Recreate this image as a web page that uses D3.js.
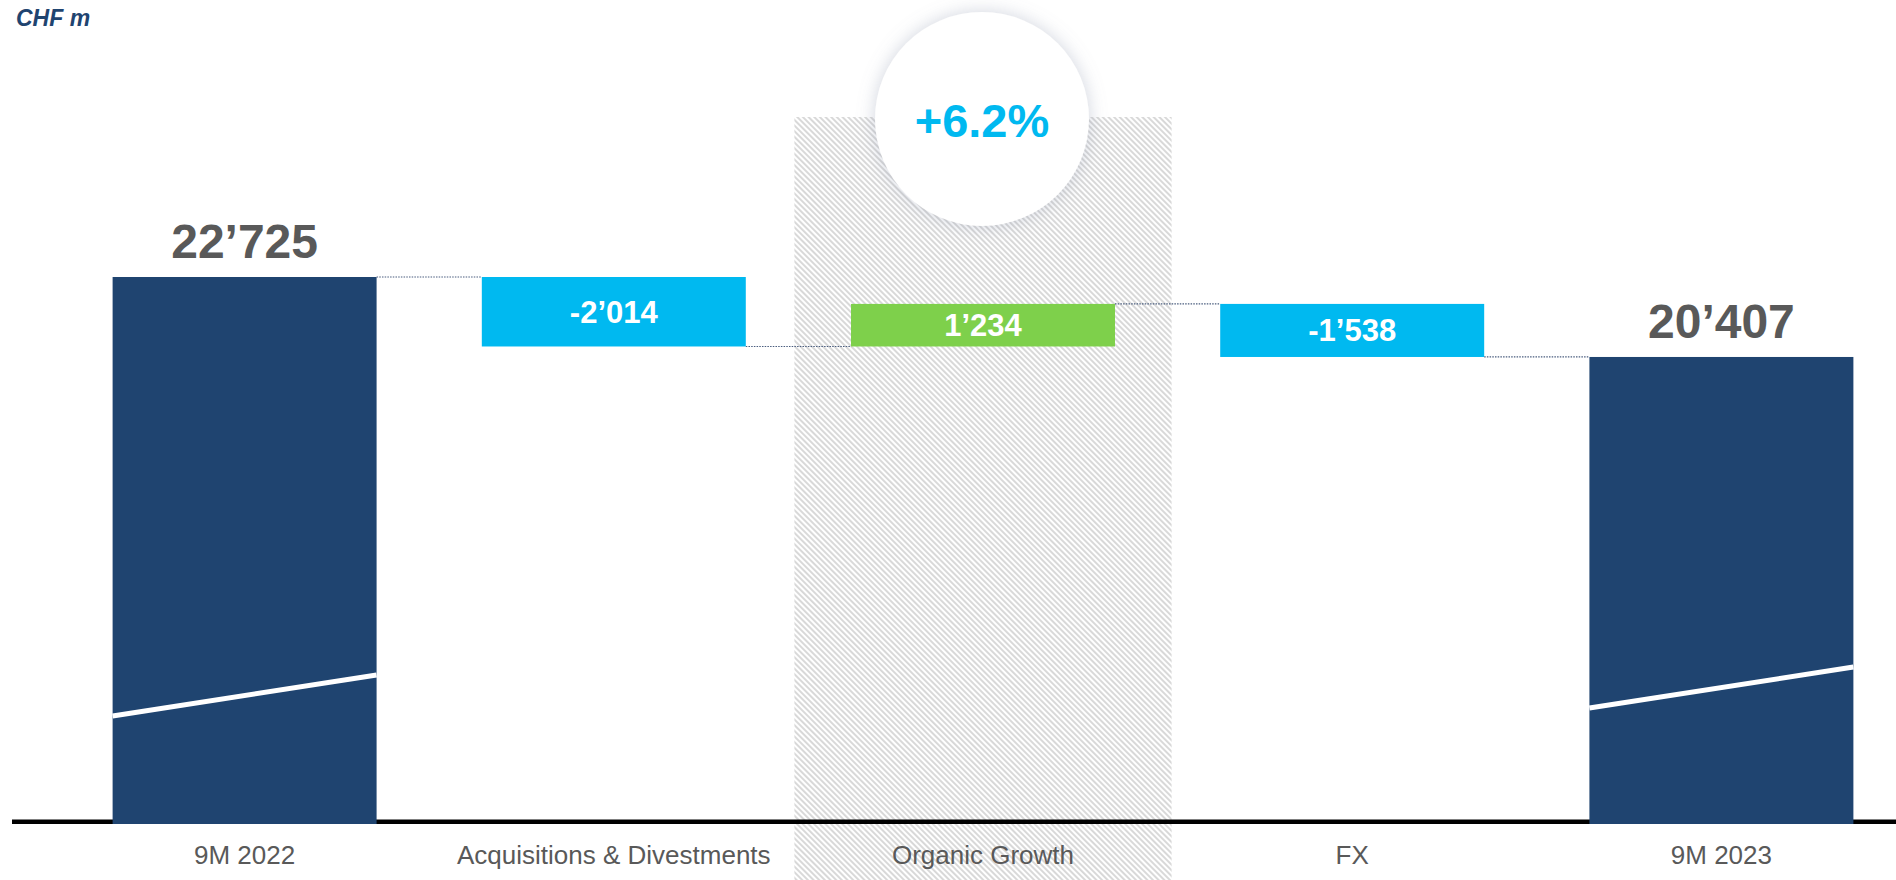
<!DOCTYPE html>
<html>
<head>
<meta charset="utf-8">
<script src="https://cdn.jsdelivr.net/npm/d3@7"></script>
<style>
  html, body { margin: 0; padding: 0; background: #ffffff; }
  svg { display: block; }
  text { font-family: "Liberation Sans", Arial, sans-serif; }
</style>
</head>
<body>
<svg id="chart" width="1896" height="880"></svg>
<script>
// ---- Data ----
const categories = ["9M 2022", "Acquisitions & Divestments", "Organic Growth", "FX", "9M 2023"];
const values = [22725, -2014, 1234, -1538, 20407];
const kinds = ["total", "delta", "delta", "delta", "total"];
const valueLabels = ["22\u2019725", "-2\u2019014", "1\u2019234", "-1\u2019538", "20\u2019407"];
const highlightCategory = "Organic Growth";
const highlightLabel = "+6.2%";
const unitLabel = "CHF m";
// axis-break marks on total bars (value at left edge, value at right edge)
const breakCategories = ["9M 2022", "9M 2023"];
const breakLeft = [10000, 10230];
const breakRight = [11190, 11420];

// ---- Layout ----
const W = 1896, H = 880;
const svg = d3.select("#chart");

const x = d3.scaleBand().domain(categories).range([60, 1906]).paddingInner(0.285).paddingOuter(0.1425);
const y = d3.scaleLinear().domain([6870, 22725]).range([824, 277]);

const colorTotal = "#1F4470", colorNeg = "#00B9F0", colorPos = "#7ED04B";

// compute waterfall segments
let running = 0;
const bars = categories.map((c, i) => {
  let start, end;
  if (kinds[i] === "total") { start = y.domain()[0]; end = values[i]; running = values[i]; }
  else { start = running; end = running + values[i]; running = end; }
  return { cat: c, v: values[i], kind: kinds[i], lo: Math.min(start, end), hi: Math.max(start, end), start, end, label: valueLabels[i] };
});

const defs = svg.append("defs");
const pat = defs.append("pattern").attr("id", "hatch").attr("patternUnits", "userSpaceOnUse")
  .attr("width", 4).attr("height", 4).attr("patternTransform", "rotate(-45)");
pat.append("rect").attr("width", 4).attr("height", 4).attr("fill", "#ffffff");
pat.append("line").attr("x1", 1).attr("y1", 0).attr("x2", 1).attr("y2", 4)
  .attr("stroke", "#d2d2d2").attr("stroke-width", 1.7);

const filt = defs.append("filter").attr("id", "shadow").attr("x", "-30%").attr("y", "-30%").attr("width", "160%").attr("height", "160%");
filt.append("feDropShadow").attr("dx", 0).attr("dy", 0).attr("stdDeviation", 9)
  .attr("flood-color", "#8a94ac").attr("flood-opacity", 0.4);

// highlight hatched column
const hc = x(highlightCategory) + x.bandwidth() / 2;
const hw = x.step() / 2 + 4;
svg.append("rect").attr("x", hc - hw).attr("y", 117).attr("width", hw * 2).attr("height", H - 117)
  .attr("fill", "url(#hatch)");

// axis baseline
svg.append("line").attr("x1", 12).attr("x2", W).attr("y1", y.range()[0] - 2.3).attr("y2", y.range()[0] - 2.3)
  .attr("stroke", "#000000").attr("stroke-width", 4.6);

// connectors
for (let i = 0; i < bars.length - 1; i++) {
  const yv = bars[i].end;
  svg.append("line")
    .attr("x1", x(bars[i].cat) + x.bandwidth()).attr("x2", x(bars[i + 1].cat))
    .attr("y1", y(yv)).attr("y2", y(yv))
    .attr("stroke", "#4a5d7e").attr("stroke-width", 1.2).attr("stroke-dasharray", "1.5,1.2");
}

// bars
svg.selectAll("rect.bar").data(bars).enter().append("rect").attr("class", "bar")
  .attr("x", d => x(d.cat)).attr("width", x.bandwidth())
  .attr("y", d => y(d.hi)).attr("height", d => y(d.lo) - y(d.hi))
  .attr("fill", d => d.kind === "total" ? colorTotal : (d.v < 0 ? colorNeg : colorPos));

// break marks
breakCategories.forEach((c, i) => {
  svg.append("line")
    .attr("x1", x(c)).attr("x2", x(c) + x.bandwidth())
    .attr("y1", y(breakLeft[i])).attr("y2", y(breakRight[i]))
    .attr("stroke", "#ffffff").attr("stroke-width", 5);
});

// value labels
bars.forEach(d => {
  if (d.kind === "total") {
    svg.append("text").attr("x", x(d.cat) + x.bandwidth() / 2).attr("y", y(d.hi) - 19)
      .attr("text-anchor", "middle").attr("font-size", 48).attr("font-weight", "bold")
      .attr("fill", "#595959").text(d.label);
  } else {
    svg.append("text").attr("x", x(d.cat) + x.bandwidth() / 2).attr("y", (y(d.hi) + y(d.lo)) / 2 + 11)
      .attr("text-anchor", "middle").attr("font-size", 31).attr("font-weight", "bold")
      .attr("fill", "#ffffff").text(d.label);
  }
});

// category labels
svg.selectAll("text.cat").data(categories).enter().append("text").attr("class", "cat")
  .attr("x", d => x(d) + x.bandwidth() / 2).attr("y", 864)
  .attr("text-anchor", "middle").attr("font-size", 26).attr("fill", "#595959").text(d => d);

// highlight bubble
svg.append("circle").attr("cx", hc - 1).attr("cy", 119).attr("r", 107)
  .attr("fill", "#ffffff").attr("filter", "url(#shadow)");
svg.append("text").attr("x", hc - 1).attr("y", 137).attr("text-anchor", "middle")
  .attr("font-size", 47).attr("font-weight", "bold").attr("fill", colorNeg).text(highlightLabel);

// unit label
svg.append("text").attr("x", 16).attr("y", 26).attr("font-size", 23).attr("font-weight", "bold")
  .attr("font-style", "italic").attr("fill", "#1F4470").text(unitLabel);
</script>
</body>
</html>
